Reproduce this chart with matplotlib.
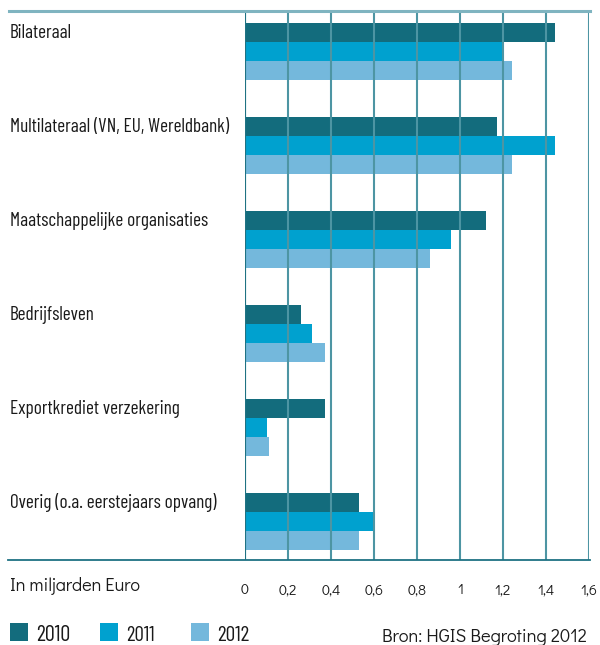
import matplotlib
matplotlib.use("Agg")
import matplotlib.pyplot as plt
import matplotlib.transforms as mtransforms
from matplotlib.lines import Line2D
from matplotlib.patches import Rectangle
import numpy as np

categories = ["Bilateraal", "Multilateraal (VN, EU, Wereldbank)", "Maatschappelijke organisaties",
              "Bedrijfsleven", "Exportkrediet verzekering", "Overig (o.a. eerstejaars opvang)"]
years = ["2010", "2011", "2012"]
v2010 = [1.44, 1.17, 1.12, 0.26, 0.37, 0.53]
v2011 = [1.20, 1.44, 0.96, 0.31, 0.10, 0.60]
v2012 = [1.24, 1.24, 0.86, 0.37, 0.11, 0.53]
ticks = [0, 0.2, 0.4, 0.6, 0.8, 1.0, 1.2, 1.4, 1.6]
tick_labels = ["0", "0,2", "0,4", "0,6", "0,8", "1", "1,2", "1,4", "1,6"]
colors = ["#136c7d", "#00a1cf", "#74b8dc"]

COND = ["Barlow Condensed", "DejaVu Sans"]
GEO = ["Didact Gothic", "DejaVu Sans"]
TXT = "#1a1a1a"

W, H = 600, 645
fig = plt.figure(figsize=(6, 6.45), dpi=100)
renderer = fig.canvas.get_renderer()


def fit(t, target_px):
    ext = t.get_window_extent(renderer=renderer)
    t.set_fontsize(t.get_fontsize() * target_px / ext.width)


ax = fig.add_axes([245/W, 1-560/H, (589-245)/W, (560-11)/H])

h = 0.202
y = np.arange(len(categories))
for k, vals in enumerate([v2010, v2011, v2012]):
    ax.barh(y + (k-1)*h, vals, height=h, color=colors[k], zorder=1, linewidth=0)

ax.set_xlim(0, 1.6)
ax.set_ylim(len(categories)-1+0.41, -0.431)
ax.set_xticks(ticks)
ax.set_xticklabels(tick_labels, fontsize=10.5, color=TXT, family=GEO)
ax.set_yticks([])
ax.tick_params(axis='x', length=0, pad=17)
for s in ax.spines.values():
    s.set_visible(False)
ax.grid(axis='x', color="#4d95a3", linewidth=1.5, zorder=2)
ax.axvline(0, color="#1f7283", linewidth=1.5, zorder=3)
ax.set_axisbelow(False)

trans = mtransforms.blended_transform_factory(fig.transFigure, ax.transData)
labels = []
for i, c in enumerate(categories):
    t = ax.text(10/W, i - h + 0.059, c, transform=trans, ha='left', va='baseline',
                fontsize=16, color=TXT, family=COND)
    labels.append(t)
ext = labels[1].get_window_extent(renderer=renderer)
fs = 16 * 220 / ext.width
for t in labels:
    t.set_fontsize(fs)

fig.add_artist(Line2D([9/W, 590/W], [1-11/H, 1-11/H], color="#7fb4c0", linewidth=2.2))
fig.add_artist(Line2D([8/W, 590/W], [1-560/H, 1-560/H], color="#1f7283", linewidth=1.3))

t = fig.text(10/W, 1-591/H, "In miljarden Euro", ha='left', va='baseline', fontsize=13,
             color=TXT, family=GEO)
fit(t, 130)

for k, yr in enumerate(years):
    x0 = [9.5, 99.5, 191][k]
    fig.add_artist(Rectangle((x0/W, 1-641/H), 18/W, 18/H, transform=fig.transFigure,
                             facecolor=colors[k], edgecolor='none'))
    t = fig.text((x0+26.5)/W, 1-641/H, yr, ha='left', va='baseline', fontsize=fs,
                 color=TXT, family=COND)
    fit(t, [34, 28, 32][k])
t = fig.text(587/W, 1-642/H, "Bron: HGIS Begroting 2012", ha='right', va='baseline',
             fontsize=13, color=TXT, family=GEO)
fit(t, 205)

fig.savefig("out.png", dpi=100)
